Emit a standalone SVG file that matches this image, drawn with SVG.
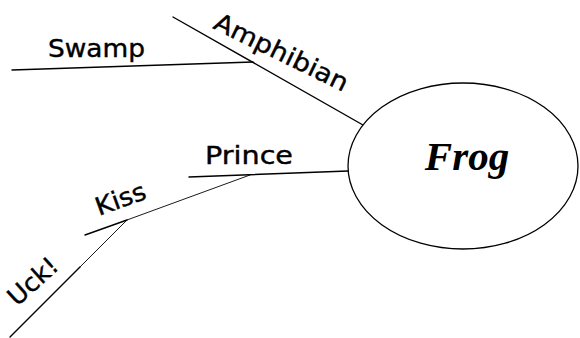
<svg xmlns="http://www.w3.org/2000/svg" width="580" height="338" viewBox="0 0 580 338">
  <style>
    .edge { stroke: #000; fill: none; stroke-linecap: round; }
    .thin { stroke-width: 0.9; }
    .med { stroke-width: 1.4; }
    .hand { font-family: "DejaVu Sans", "Noto Sans", sans-serif; font-size: 25px; fill: #000; stroke: #000; stroke-width: 0.4; }
    .core { font-family: "Liberation Serif", "Times New Roman", serif; font-weight: bold; font-style: italic; font-size: 41px; fill: #000; }
  </style>
  <rect width="580" height="338" fill="#fff"/>

  <!-- branches -->
  <g id="connectors">
    <line class="edge med" x1="173" y1="17" x2="363" y2="125"/>
    <line class="edge med" x1="12" y1="70" x2="253" y2="62"/>
    <line class="edge med" x1="189" y1="177" x2="348" y2="171"/>
    <line class="edge med" x1="85" y1="235" x2="127" y2="220"/>
    <line class="edge thin" x1="127" y1="220" x2="250" y2="175"/>
    <line class="edge med" x1="10" y1="337" x2="80" y2="267"/>
    <line class="edge thin" x1="80" y1="267" x2="127" y2="220"/>
  </g>

  <g id="frog">
    <ellipse cx="463" cy="166" rx="115" ry="83" fill="#fff" stroke="#000" stroke-width="1.3"/>
    <text class="core" x="467" y="170" text-anchor="middle">Frog</text>
  </g>

  <g id="swamp">
    <text class="hand" x="48" y="57" textLength="97" lengthAdjust="spacingAndGlyphs">Swamp</text>
  </g>

  <g id="amphibian">
    <text class="hand" transform="translate(212,28) rotate(26)" x="0" y="0" textLength="146" lengthAdjust="spacingAndGlyphs">Amphibian</text>
  </g>

  <g id="prince">
    <text class="hand" x="205" y="164" textLength="88" lengthAdjust="spacingAndGlyphs">Prince</text>
  </g>

  <g id="kiss">
    <text class="hand" transform="translate(99,216) rotate(-20)" x="0" y="0" textLength="52" lengthAdjust="spacingAndGlyphs">Kiss</text>
  </g>

  <g id="uck">
    <text class="hand" transform="translate(17,307) rotate(-42)" x="0" y="0" textLength="58" lengthAdjust="spacingAndGlyphs">Uck!</text>
  </g>
</svg>
